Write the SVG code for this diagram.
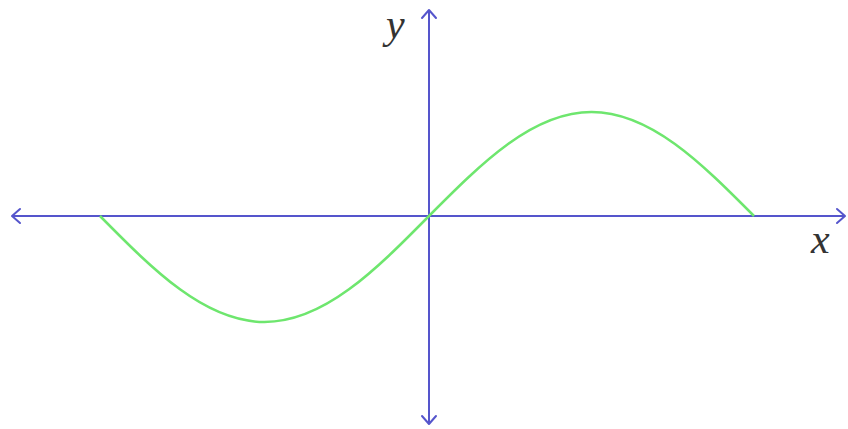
<svg xmlns="http://www.w3.org/2000/svg" width="848" height="429" viewBox="0 0 848 429">
<defs>
<style>
.axis{stroke:#5555cc;stroke-width:2;fill:none}
.head{stroke:#5555cc;stroke-width:2;fill:none;stroke-linecap:round;stroke-linejoin:round}
.curve{stroke:#6ee66e;stroke-width:2.5;fill:none}
.lbl{font-family:"Liberation Serif","DejaVu Serif",serif;font-style:italic;font-size:42px;fill:#333}
</style>
</defs>
<rect width="848" height="429" fill="#ffffff"/>
<g id="axes">
<line class="axis" x1="12" y1="216" x2="845" y2="216"/>
<line class="axis" x1="429" y1="10" x2="429" y2="424"/>
<polyline class="head" points="837,209 845,216 837,223"/>
<polyline class="head" points="20,209 12,216 20,223"/>
<polyline class="head" points="422,18 429,10 436,18"/>
<polyline class="head" points="422,416 429,424 436,416"/>
</g>
<g id="curve">
<path class="curve" d="M100,216 C153.6,270.3 204.9,322 264.5,322 C324.1,322 375.4,270.3 429,216 C482,162.7 532.7,112 591.5,112 C650.3,112 701,162.7 754,216"/>
</g>
<g id="labels">
<text class="lbl" x="386" y="38">y</text>
<text class="lbl" x="811" y="253">x</text>
</g>
</svg>
